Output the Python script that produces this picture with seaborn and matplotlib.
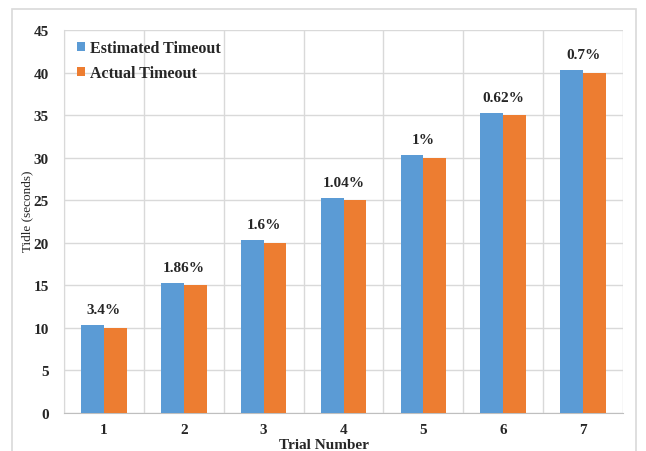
import matplotlib
matplotlib.use("Agg")
import matplotlib.pyplot as plt
import seaborn as sns
import pandas as pd
import numpy as np
from matplotlib.patches import Rectangle, Patch

trials = ["1", "2", "3", "4", "5", "6", "7"]
estimated = [10.34, 15.28, 20.32, 25.26, 30.30, 35.22, 40.28]
actual = [10, 15, 20, 25, 30, 35, 40]
error_labels = ["3.4%", "1.86%", "1.6%", "1.04%", "1%", "0.62%", "0.7%"]
series_names = ["Estimated Timeout", "Actual Timeout"]
colors = ["#5B9BD5", "#ED7D31"]

df = pd.DataFrame({
    "Trial": trials * 2,
    "Timeout": estimated + actual,
    "Series": [series_names[0]] * len(trials) + [series_names[1]] * len(trials),
})

sns.set_style("white")
plt.rcParams["font.family"] = ["Liberation Serif", "DejaVu Serif"]

fig = plt.figure(figsize=(6.46, 4.52), dpi=100)
ax = fig.add_axes([64 / 646, 1 - 414 / 452, (623 - 64) / 646, (414 - 31) / 452])

# light frame around the whole chart area
fig.patches.append(Rectangle((12 / 646, -0.05), (636 - 12) / 646, 1.05 - 10 / 452,
                             transform=fig.transFigure, fill=False,
                             edgecolor="#d9d9d9", linewidth=1.2, zorder=0))

sns.barplot(data=df, x="Trial", y="Timeout", hue="Series", palette=colors,
            width=0.57, saturation=1, ax=ax, legend=False, zorder=3)
for p in ax.patches:
    p.set_edgecolor("none")

ax.set_ylim(0, 45)
ax.set_xlim(-0.5, len(trials) - 0.5)
ax.set_yticks(np.arange(0, 46, 5))
ax.set_xticks(range(len(trials)))
ax.set_xticks(np.arange(-0.5, len(trials), 1), minor=True)
ax.grid(True, which="major", axis="y", color="#d9d9d9", linewidth=1.0, zorder=0)
ax.grid(True, which="minor", axis="x", color="#d9d9d9", linewidth=1.0, zorder=0)
ax.set_axisbelow(True)
ax.tick_params(axis="both", which="both", length=0)
ax.tick_params(axis="y", pad=11)
ax.tick_params(axis="x", pad=7)
for lab in ax.get_xticklabels() + ax.get_yticklabels():
    lab.set_fontweight("bold")
    lab.set_fontsize(11)

for s in ["top", "right"]:
    ax.spines[s].set_visible(False)
ax.spines["left"].set_color("#d9d9d9")
ax.spines["bottom"].set_color("#bfbfbf")

ax.set_xlabel("Trial Number", fontsize=11, fontweight="bold")
ax.xaxis.set_label_coords((324 - 64) / 559, -0.066)
ax.set_ylabel("Tidle (seconds)", fontsize=9.5)
ax.yaxis.set_label_coords((33 - 64) / 559, 0.53)

for i, (e, a, txt) in enumerate(zip(estimated, actual, error_labels)):
    ax.annotate(txt, (i, max(e, a)), xytext=(0, 11), textcoords="offset points",
                ha="center", va="center", fontsize=11, fontweight="bold")

handles = [Patch(facecolor=c, edgecolor="none") for c in colors]
ax.legend(handles, series_names, loc="upper left", frameon=False,
          prop={"weight": "bold", "size": 11.5}, handlelength=0.5, handleheight=0.5,
          handletextpad=0.3, labelspacing=0.55, borderaxespad=0.0,
          bbox_to_anchor=(0.012, 0.99))

fig.savefig("out.png", dpi=100)
